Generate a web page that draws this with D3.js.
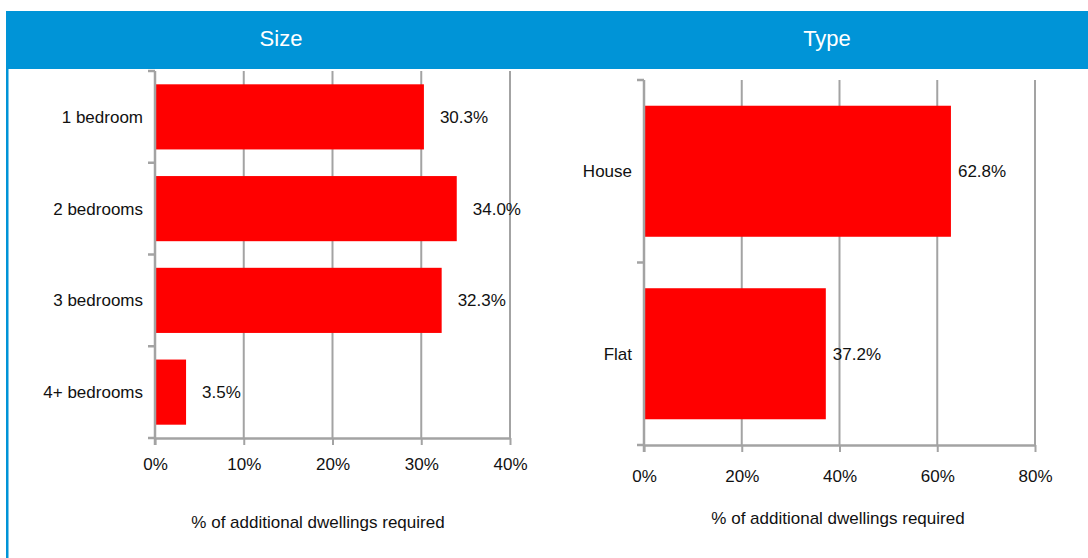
<!DOCTYPE html>
<html>
<head>
<meta charset="utf-8">
<script src="https://cdn.jsdelivr.net/npm/d3@7"></script>
<style>
  html, body { margin: 0; padding: 0; background: #fff; }
  svg { display: block; font-family: "Liberation Sans", Arial, sans-serif; }
</style>
</head>
<body>
<svg id="chart" width="1088" height="558"></svg>
<script>
// ---- Data ----
const sizeCategories = ["1 bedroom", "2 bedrooms", "3 bedrooms", "4+ bedrooms"];
const sizeValues = [30.3, 34.0, 32.3, 3.5];
const sizeTicks = [0, 10, 20, 30, 40];

const typeCategories = ["House", "Flat"];
const typeValues = [62.8, 37.2];
const typeTicks = [0, 20, 40, 60, 80];

const panelTitles = ["Size", "Type"];
const xAxisTitles = ["% of additional dwellings required", "% of  additional dwellings required"];
const figureTitle = "Figure 4.6: Size and type of additional dwellings required (all tenures)";

// ---- Styles ----
const BLUE = "#0094d7";
const RED = "#ff0000";
const GRAY = "#a3a3a3";
const TXT = "#111";
const FS = 17;

const svg = d3.select("#chart");

// cut-off title at the very top (only descenders visible, as in the reference)
svg.append("text")
  .attr("x", 8).attr("y", -5)
  .attr("font-size", 19).attr("font-weight", "bold").attr("fill", "#333")
  .text(figureTitle);

// header band + left border
svg.append("rect").attr("x", 6).attr("y", 11).attr("width", 1082).attr("height", 58).attr("fill", BLUE);
svg.append("rect").attr("x", 6).attr("y", 11).attr("width", 2.5).attr("height", 547).attr("fill", BLUE);

const headerX = [281, 827];
panelTitles.forEach((t, i) => {
  svg.append("text")
    .attr("x", headerX[i]).attr("y", 46)
    .attr("text-anchor", "middle")
    .attr("font-size", 22).attr("fill", "#fff")
    .text(t);
});

function panel(cfg) {
  const g = svg.append("g");
  const x = d3.scaleLinear().domain([cfg.ticks[0], cfg.ticks[cfg.ticks.length - 1]]).range([cfg.x0, cfg.x1]);
  const y = d3.scaleBand().domain(cfg.categories).range([cfg.y0, cfg.y1])
    .paddingInner(cfg.pad).paddingOuter(cfg.pad / 2);

  // gridlines
  g.append("g").selectAll("line")
    .data(cfg.ticks.slice(1))
    .join("line")
    .attr("x1", d => x(d)).attr("x2", d => x(d))
    .attr("y1", cfg.y0).attr("y2", cfg.y1)
    .attr("stroke", GRAY).attr("stroke-width", 2);

  // bars
  g.append("g").selectAll("rect")
    .data(cfg.values)
    .join("rect")
    .attr("x", x(0) + 1)
    .attr("y", (d, i) => y(cfg.categories[i]))
    .attr("width", d => x(d) - x(0) - 1)
    .attr("height", y.bandwidth())
    .attr("fill", RED);

  // x axis
  const xa = g.append("g")
    .attr("transform", `translate(0,${cfg.y1})`)
    .call(d3.axisBottom(x).tickValues(cfg.ticks).tickSize(cfg.tickLen).tickSizeOuter(0).tickFormat(d => d + "%"));
  xa.select(".domain").attr("stroke", GRAY).attr("stroke-width", 2.5);
  xa.selectAll(".tick line").attr("stroke", GRAY).attr("stroke-width", 2);
  xa.selectAll(".tick text")
    .attr("font-size", FS).attr("fill", TXT)
    .attr("font-family", "Liberation Sans, Arial, sans-serif")
    .attr("y", cfg.tickLabelDy).attr("dy", "0.32em");

  // y axis line + boundary ticks
  g.append("line")
    .attr("x1", x(0)).attr("x2", x(0))
    .attr("y1", cfg.y0).attr("y2", cfg.y1 + cfg.tickLen)
    .attr("stroke", GRAY).attr("stroke-width", 2.5);
  const step = y.step();
  const boundaries = cfg.categories.map(c => y(c) - (step - y.bandwidth()) / 2).concat([cfg.y1]);
  g.append("g").selectAll("line")
    .data(boundaries)
    .join("line")
    .attr("x1", x(0) - 7).attr("x2", x(0))
    .attr("y1", d => d).attr("y2", d => d)
    .attr("stroke", GRAY).attr("stroke-width", 2.5);

  // category labels
  g.append("g").selectAll("text")
    .data(cfg.categories)
    .join("text")
    .attr("x", x(0) - 12)
    .attr("y", d => y(d) + y.bandwidth() / 2)
    .attr("dy", "0.35em")
    .attr("text-anchor", "end")
    .attr("font-size", FS).attr("fill", TXT)
    .text(d => d);

  // value labels
  g.append("g").selectAll("text")
    .data(cfg.values)
    .join("text")
    .attr("x", d => x(d) + cfg.labelOff)
    .attr("y", (d, i) => y(cfg.categories[i]) + y.bandwidth() / 2)
    .attr("dy", "0.35em")
    .attr("font-size", FS).attr("fill", TXT)
    .text(d => d.toFixed(1) + "%");

  // x-axis title
  g.append("text")
    .attr("x", cfg.titleX).attr("y", cfg.titleY)
    .attr("dy", "0.35em")
    .attr("text-anchor", "middle")
    .attr("font-size", FS).attr("fill", TXT)
    .text(cfg.title);
}

panel({
  categories: sizeCategories, values: sizeValues, ticks: sizeTicks,
  x0: 155, x1: 510, y0: 71, y1: 438, pad: 0.29, tickLen: 7,
  tickLabelDy: 27, labelOff: 16, title: xAxisTitles[0], titleX: 318, titleY: 522
});

panel({
  categories: typeCategories, values: typeValues, ticks: typeTicks,
  x0: 644, x1: 1035, y0: 80, y1: 445, pad: 0.282, tickLen: 7,
  tickLabelDy: 32, labelOff: 7, title: xAxisTitles[1], titleX: 838, titleY: 518
});
</script>
</body>
</html>
